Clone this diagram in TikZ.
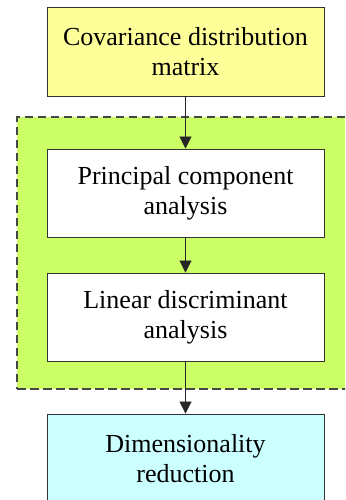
\documentclass[tikz,border=0pt]{standalone}
\usepackage{fontspec}
\setmainfont{Liberation Serif}
\usetikzlibrary{arrows.meta}
\definecolor{boxyellow}{RGB}{255,255,153}
\definecolor{boxgreen}{RGB}{204,255,102}
\definecolor{boxcyan}{RGB}{204,255,255}
\definecolor{dashgray}{RGB}{70,70,70}
\tikzset{
  procbox/.style={draw=black!80, line width=0.9pt, minimum width=277pt, minimum height=88pt,
    align=center, inner sep=0pt, font=\fontsize{26}{30}\selectfont},
  flow/.style={draw=black!85, line width=0.9pt, -{Triangle[width=12pt,length=12pt]}},
}
\begin{document}
\begin{tikzpicture}[x=1pt,y=1pt]
\useasboundingbox (0,0) rectangle (345,500);
\clip (0,0) rectangle (345,500);
\node[draw=dashgray, dash pattern=on 8.5pt off 4.5pt, line width=1.3pt, fill=boxgreen,
  minimum width=340pt, minimum height=272pt, inner sep=0pt] (group) at (187,247) {};
\node[procbox, fill=boxyellow, minimum height=89pt] (cov) at (185.5,448.5) {Covariance distribution\\matrix};
\node[procbox, fill=white] (pca) at (185.5,307) {Principal component\\analysis};
\node[procbox, fill=white] (lda) at (185.5,183) {Linear discriminant\\analysis};
\node[procbox, fill=boxcyan, minimum height=89pt] (dim) at (185.5,41.5) {Dimensionality\\reduction};
\draw[flow] (cov) -- (pca);
\draw[flow] (pca) -- (lda);
\draw[flow] (lda) -- (dim);
\end{tikzpicture}
\end{document}
